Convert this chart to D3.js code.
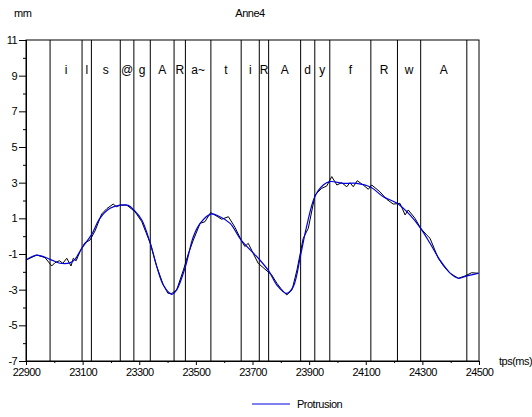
<!DOCTYPE html>
<html>
<head>
<meta charset="utf-8">
<script src="https://cdn.jsdelivr.net/npm/d3@7"></script>
<style>
  body { margin: 0; background: #fff; }
  svg { font-family: "Liberation Sans", Arial, sans-serif; }
  .tick text { font-size: 11px; letter-spacing: -0.6px; fill: #000; }
</style>
</head>
<body>
<div class="chart"></div>
<script>
// raw protrusion trace (mm) against time (ms)
var timesRaw = [22900, 22938, 22967, 22991, 23002, 23018, 23030, 23044, 23059, 23067, 23077, 23091,
  23108, 23126, 23144, 23167, 23186, 23208, 23220, 23232, 23256, 23271, 23285, 23309, 23324, 23339,
  23362, 23385, 23401, 23415, 23432, 23456, 23473, 23491, 23515, 23532, 23552, 23571, 23591, 23615,
  23638, 23660, 23673, 23685, 23702, 23720, 23744, 23768, 23786, 23801, 23821, 23840, 23857, 23879,
  23897, 23921, 23944, 23962, 23980, 23998, 24015, 24033, 24044, 24056, 24070, 24091, 24109, 24121,
  24150, 24174, 24197, 24221, 24239, 24250, 24274, 24294, 24315, 24327, 24356, 24376, 24398, 24427,
  24451, 24474, 24497];
var protrusionRaw = [-1.34, -1.06, -1.2, -1.67, -1.49, -1.38, -1.52, -1.24, -1.67, -1.24, -1.38, -0.86,
  -0.37, -0.22, 0.3, 1.24, 1.55, 1.8, 1.65, 1.74, 1.74, 1.55, 1.37, 0.81, 0.2, -0.4,
  -1.71, -2.74, -3.2, -3.21, -3.02, -1.9, -1.0, -0.22, 0.72, 0.81, 1.32, 1.15, 0.95, 1.09,
  0.5, -0.22, -0.58, -0.4, -0.95, -1.52, -1.85, -2.18, -2.64, -2.95, -3.3, -3.0, -1.9, -0.13,
  0.44, 2.31, 2.68, 2.81, 3.34, 2.87, 3.0, 2.77, 3.0, 2.77, 3.11, 2.87, 2.63, 2.87,
  2.49, 2.07, 1.8, 1.84, 1.19, 1.47, 1.0, 0.44, 0.07, -0.12, -1.24, -1.7, -2.08, -2.36,
  -2.23, -2.05, -2.08];

// smoothed protrusion
var timesSmooth = [22900, 22938, 22985, 23020, 23055, 23073, 23098, 23131, 23161, 23197, 23233, 23261,
  23281, 23309, 23339, 23362, 23385, 23415, 23432, 23463, 23491, 23515, 23553, 23585, 23621, 23660,
  23724, 23759, 23786, 23821, 23844, 23870, 23891, 23920, 23950, 23973, 24021, 24068, 24118, 24162,
  24211, 24256, 24294, 24327, 24362, 24398, 24427, 24457, 24499];
var protrusionSmooth = [-1.34, -1.06, -1.3, -1.52, -1.5, -1.3, -0.65, 0.07, 1.0, 1.56, 1.74, 1.73,
  1.47, 0.91, -0.4, -1.71, -2.74, -3.26, -3.02, -1.71, -0.03, 0.72, 1.24, 1.09, 0.72, -0.22,
  -1.3, -1.99, -2.74, -3.21, -2.83, -1.06, 0.53, 2.21, 2.87, 3.06, 2.96, 2.96, 2.74, 2.21,
  1.84, 1.19, 0.44, -0.4, -1.34, -2.07, -2.36, -2.23, -2.07];

// phoneme segmentation
var segmentBounds = [22900, 22985, 23098, 23131, 23233, 23281, 23339, 23423, 23463, 23553, 23660,
  23724, 23757, 23870, 23920, 23973, 24118, 24212, 24294, 24457, 24500];
var segmentLabels = ["", "i", "l", "s", "@", "g", "A", "R", "a~", "t", "i", "R", "A", "d", "y",
  "f", "R", "w", "A", ""];

var xMajor = [22900, 23100, 23300, 23500, 23700, 23900, 24100, 24300, 24500];
var xMinor = [23000, 23200, 23400, 23600, 23800, 24000, 24200, 24400];
var yMajor = [-7, -5, -3, -1, 1, 3, 5, 7, 9, 11];
var yMinor = [-6, -4, -2, 0, 2, 4, 6, 8, 10];

var margin = { top: 40, right: 53, bottom: 56, left: 26 };
var width = 532 - margin.left - margin.right;
var height = 417 - margin.top - margin.bottom;

var root = d3.select(".chart").append("svg")
  .attr("width", 532)
  .attr("height", 417);

var svg = root.append("g")
  .attr("transform", `translate(${margin.left}, ${margin.top})`);

var x = d3.scaleLinear().domain([22900, 24500]).range([0, width]);
var y = d3.scaleLinear().domain([-7, 11]).range([height, 0]);

// segment boundaries
svg.selectAll("line.seg")
  .data(segmentBounds.slice(1, -1))
  .enter().append("line")
  .attr("class", "seg")
  .attr("x1", d => x(d)).attr("x2", d => x(d))
  .attr("y1", 0).attr("y2", height)
  .attr("stroke", "#000").attr("stroke-width", 1);

// segment labels
svg.selectAll("text.lab")
  .data(segmentLabels)
  .enter().append("text")
  .attr("class", "lab")
  .attr("x", (d, i) => (x(segmentBounds[i]) + x(segmentBounds[i + 1])) / 2)
  .attr("y", 34)
  .attr("text-anchor", "middle")
  .style("font-size", "12px")
  .text(d => d);

// frame
svg.append("rect")
  .attr("width", width).attr("height", height)
  .attr("fill", "none").attr("stroke", "#000").attr("stroke-width", 1);

// raw trace
var lineRaw = d3.line().x((d, i) => x(timesRaw[i])).y(d => y(d));
svg.append("path")
  .datum(protrusionRaw)
  .attr("d", lineRaw)
  .attr("fill", "none").attr("stroke", "#000").attr("stroke-width", 1);

// smoothed trace
var lineSmooth = d3.line().x((d, i) => x(timesSmooth[i])).y(d => y(d)).curve(d3.curveCatmullRom);
svg.append("path")
  .datum(protrusionSmooth)
  .attr("d", lineSmooth)
  .attr("fill", "none").attr("stroke", "#0000dd").attr("stroke-width", 1.2);

//add y-axis
svg.append("g")
  .call(d3.axisLeft(y).tickValues(yMajor).tickSize(7).tickPadding(2).tickFormat(d => String(d)));
svg.append("g")
  .call(d3.axisLeft(y).tickValues(yMinor).tickSize(3).tickFormat(""));

//add x-axis
svg.append("g")
  .attr("transform", `translate(0,${height})`)
  .call(d3.axisBottom(x).tickValues(xMajor).tickSize(4).tickPadding(3).tickFormat(d => String(d)));
svg.append("g")
  .attr("transform", `translate(0,${height})`)
  .call(d3.axisBottom(x).tickValues(xMinor).tickSize(2).tickFormat(""));

svg.selectAll(".domain").attr("stroke", "#000");
svg.selectAll(".tick line").attr("stroke", "#000");

// texts
root.append("text").attr("x", 14).attr("y", 17).style("font-size", "11px")
  .style("letter-spacing", "-0.5px").text("mm");
root.append("text").attr("x", 250).attr("y", 17).attr("text-anchor", "middle")
  .style("font-size", "11px").style("letter-spacing", "-0.5px").text("Anne4");
root.append("text").attr("x", 499).attr("y", 365).style("font-size", "11px")
  .style("letter-spacing", "-0.5px").text("tps(ms)");

// legend
root.append("line").attr("x1", 252).attr("x2", 290).attr("y1", 404).attr("y2", 404)
  .attr("stroke", "#0000dd").attr("stroke-width", 1);
root.append("text").attr("x", 297).attr("y", 408).style("font-size", "11px")
  .style("letter-spacing", "-0.5px").text("Protrusion");
</script>
</body>
</html>
